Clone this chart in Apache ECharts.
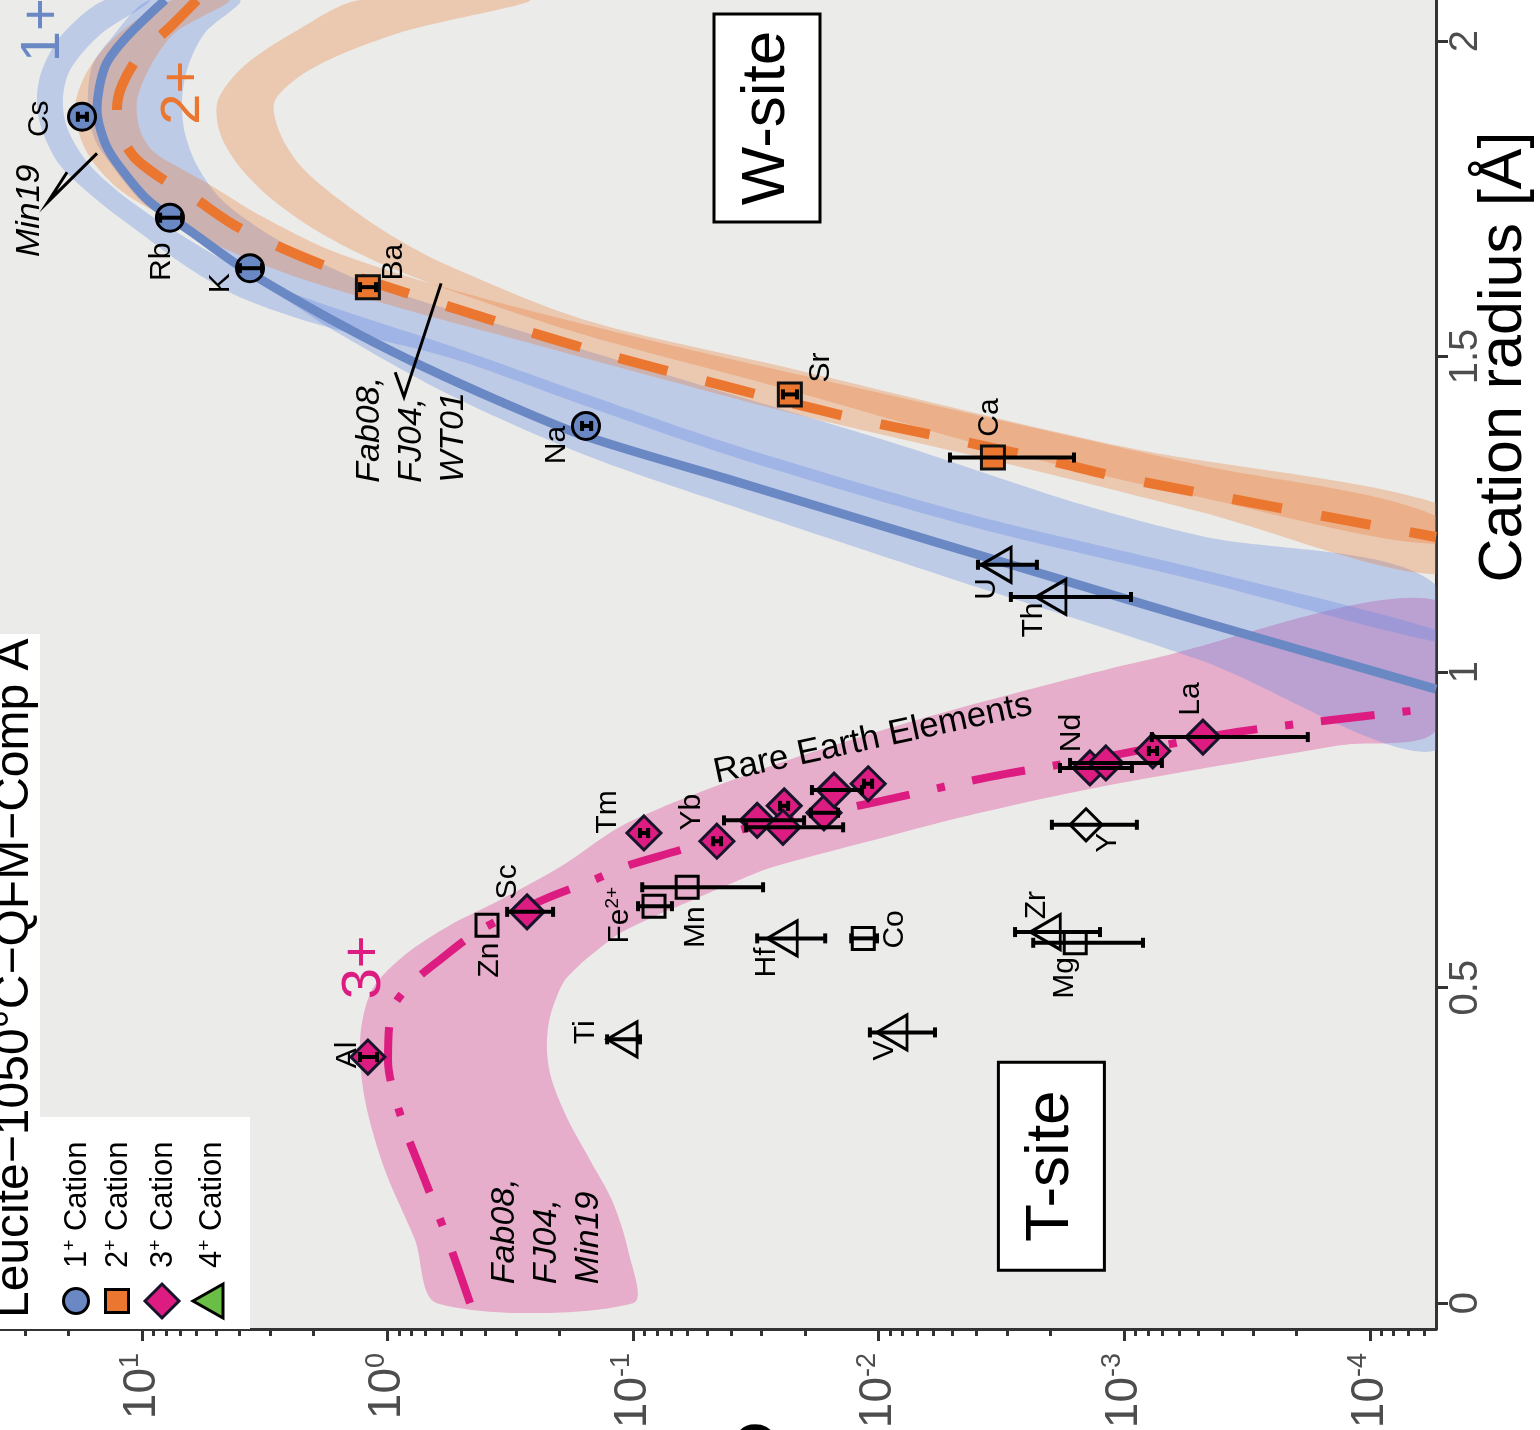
<!DOCTYPE html>
<html>
<head>
<meta charset="utf-8">
<title>Leucite lattice strain</title>
<script src="https://cdn.jsdelivr.net/npm/echarts@6.0.0/dist/echarts.min.js"></script>
<style>
html,body{margin:0;padding:0;background:#ffffff;}
#chart{width:1540px;height:1430px;}
</style>
</head>
<body>
<div id="chart"></div>
<script>
// ================= AXES =================
const dDecades = [1, 0, -1, -2, -3, -4];            // major ticks, 10^n
const dMinorMultipliers = [2, 3, 4, 5, 6, 7, 8, 9];  // minor ticks inside each decade
const radiusTicks = [0, 0.5, 1, 1.5, 2];
const dRange = [-4.269, 1.578];     // log10(D) shown
const rRange = [-0.041, 2.065];     // cation radius shown [Å]

// ================= MEASURED POINTS (log10 D, radius Å) =================
// 1+ cations (W-site)
const ion1 = ['Cs', 'Rb', 'K', 'Na'];
const r1 = [1.88, 1.72, 1.64, 1.39];
const logD1 = [1.244, 0.886, 0.560, -0.808];
const logD1Hi = [1.261, 0.926, 0.601, -0.792];
const logD1Lo = [1.224, 0.837, 0.511, -0.829];
// 2+ cations (W-site)
const ion2 = ['Ba', 'Sr', 'Ca'];
const r2 = [1.61, 1.44, 1.34];
const logD2 = [0.080, -1.638, -2.465];
const logD2Hi = [0.112, -1.610, -2.290];
const logD2Lo = [0.047, -1.667, -2.795];
// 3+ cations (T-site)
const ion3 = ['Al', 'Sc', 'Tm', 'Yb', 'Dy', 'Gd', 'Ho', 'Tb', 'Eu', 'Sm', 'Nd', 'Pr', 'Ce', 'La'];
const r3 = [0.390, 0.620, 0.745, 0.732, 0.765, 0.788, 0.754, 0.777, 0.813, 0.823, 0.848, 0.856, 0.875, 0.897];
const logD3 = [0.080, -0.568, -1.044, -1.341, -1.505, -1.615, -1.610, -1.777, -1.818, -1.957, -2.860, -2.925, -3.116, -3.320];
const logD3Hi = [0.112, -0.487, -1.028, -1.326, -1.370, -1.598, -1.460, -1.724, -1.728, -1.940, -2.738, -2.779, -3.100, -3.112];
const logD3Lo = [0.043, -0.674, -1.061, -1.358, -1.696, -1.631, -1.855, -1.834, -1.932, -1.973, -3.031, -3.153, -3.133, -3.747];
// not fitted (open symbols)
const ionOpen2 = ['Zn', 'Fe', 'Mn', 'Co', 'Mg'];
const rOpen2 = [0.599, 0.629, 0.659, 0.578, 0.571];
const logDOpen2 = [-0.405, -1.085, -1.220, -1.937, -2.800];
const logDOpen2Hi = [null, -1.020, -1.037, -1.888, -2.629];
const logDOpen2Lo = [null, -1.158, -1.529, -1.993, -3.076];
const ionOpen4 = ['Ti', 'V', 'Hf', 'Zr', 'U', 'Th'];
const rOpen4 = [0.418, 0.429, 0.578, 0.588, 1.170, 1.119];
const logDOpen4 = [-0.955, -2.054, -1.607, -2.678, -2.478, -2.701];
const logDOpen4Hi = [-0.894, -1.964, -1.505, -2.555, -2.404, -2.538];
const logDOpen4Lo = [-1.028, -2.229, -1.782, -2.901, -2.644, -3.027];
const ionOpen3 = ['Y'];
const rOpen3 = [0.758];
const logDOpen3 = [-2.844];
const logDOpen3Hi = [-2.705];
const logDOpen3Lo = [-3.051];

// ================= LATTICE-STRAIN FITS =================
const fit1R = [2.065, 2.002, 1.959, 1.891, 1.843, 1.811, 1.748, 1.696, 1.642, 1.588, 1.534, 1.488, 1.429, 1.374, 1.301, 1.204, 1.141, 1.081, 0.973];
const fit1LogD = [0.906, 1.073, 1.151, 1.183, 1.155, 1.110, 0.976, 0.792, 0.597, 0.365, 0.112, -0.124, -0.458, -0.804, -1.427, -2.249, -2.791, -3.308, -4.269];
const fit2R = [2.065, 2.022, 1.978, 1.930, 1.891, 1.851, 1.815, 1.784, 1.756, 1.705, 1.645, 1.597, 1.553, 1.510, 1.471, 1.434, 1.399, 1.369, 1.336, 1.307, 1.214];
const fit2LogD = [0.776, 0.886, 1.008, 1.081, 1.102, 1.086, 1.029, 0.927, 0.805, 0.609, 0.263, -0.107, -0.462, -0.828, -1.199, -1.565, -1.936, -2.302, -2.685, -3.002, -4.269];
const fit3R = [0, 0.100, 0.195, 0.290, 0.385, 0.464, 0.504, 0.544, 0.591, 0.639, 0.670, 0.693, 0.718, 0.754, 0.792, 0.834, 0.865, 0.905, 0.943];
const fit3LogD = [-0.336, -0.246, -0.152, -0.059, -0.002, -0.018, -0.091, -0.213, -0.376, -0.633, -0.836, -0.975, -1.191, -1.476, -1.964, -2.453, -2.913, -3.458, -4.269];

// uncertainty envelopes: high-D edge and low-D edge
const band3HiR = [0, 0.100, 0.211, 0.322, 0.417, 0.496, 0.552, 0.599, 0.639, 0.691, 0.761, 0.845, 0.913, 0.960, 1.019, 1.114];
const band3HiLogD = [-0.201, -0.112, 0.011, 0.092, 0.112, 0.064, -0.071, -0.254, -0.458, -0.702, -0.975, -1.516, -2.058, -2.493, -3.092, -4.269];
const band3LoR = [0, 0.084, 0.163, 0.227, 0.290, 0.353, 0.401, 0.453, 0.507, 0.532, 0.559, 0.586, 0.612, 0.639, 0.666, 0.691, 0.742, 0.777, 0.818, 0.884, 0.908];
const band3LoLogD = [-0.999, -0.979, -0.914, -0.824, -0.735, -0.669, -0.649, -0.661, -0.714, -0.771, -0.853, -0.946, -1.081, -1.243, -1.406, -1.569, -2.058, -2.412, -2.901, -3.878, -4.269];

const band1aHiR = [2.065, 2.002, 1.959, 1.891, 1.843, 1.811, 1.748, 1.696, 1.642, 1.586, 1.545, 1.439, 1.344, 1.260, 1.154, 1.019, 0.876];
const band1aHiLogD = [0.967, 1.130, 1.204, 1.220, 1.191, 1.138, 1.008, 0.825, 0.629, 0.397, 0.235, -0.254, -0.804, -1.427, -2.249, -3.308, -4.269];
const band1aLoR = [2.065, 2.013, 1.959, 1.906, 1.854, 1.800, 1.748, 1.700, 1.661, 1.621, 1.574, 1.510, 1.437, 1.360, 1.265, 1.216, 1.138];
const band1aLoLogD = [0.601, 0.743, 0.813, 0.837, 0.825, 0.772, 0.674, 0.511, 0.336, 0.112, -0.254, -0.804, -1.427, -2.086, -2.831, -3.308, -4.269];

const band1bHiR = [2.065, 2.010, 1.954, 1.906, 1.859, 1.803, 1.748, 1.696, 1.642, 1.594, 1.550, 1.498, 1.422, 1.339, 1.230, 1.144, 1.048];
const band1bHiLogD = [1.151, 1.326, 1.407, 1.428, 1.407, 1.334, 1.183, 1.008, 0.817, 0.601, 0.275, -0.254, -0.804, -1.427, -2.384, -3.308, -4.269];
const band1bLoR = [2.065, 2.010, 1.954, 1.906, 1.859, 1.803, 1.753, 1.704, 1.656, 1.615, 1.574, 1.517, 1.441, 1.358, 1.249, 1.163, 1.067];
const band1bLoLogD = [0.967, 1.171, 1.293, 1.322, 1.301, 1.212, 1.069, 0.886, 0.682, 0.479, 0.194, -0.254, -0.804, -1.427, -2.384, -3.308, -4.269];

const band2aHiR = [2.065, 2.013, 1.959, 1.906, 1.859, 1.811, 1.764, 1.721, 1.674, 1.624, 1.577, 1.534, 1.491, 1.407, 1.333, 1.254, 1.155];
const band2aHiLogD = [0.874, 1.090, 1.212, 1.269, 1.261, 1.204, 1.090, 0.906, 0.682, 0.357, -0.050, -0.458, -0.865, -1.679, -2.493, -3.308, -4.269];
const band2aLoR = [2.065, 2.013, 1.959, 1.906, 1.859, 1.827, 1.803, 1.772, 1.724, 1.669, 1.621, 1.577, 1.526, 1.471, 1.399, 1.328, 1.247];
const band2aLoLogD = [0.642, 0.866, 0.967, 1.020, 1.008, 0.959, 0.866, 0.723, 0.520, 0.235, -0.132, -0.539, -1.068, -1.679, -2.493, -3.308, -4.269];

const band2bHiR = [2.065, 2.013, 1.959, 1.906, 1.854, 1.800, 1.748, 1.696, 1.650, 1.605, 1.534, 1.447, 1.352, 1.277, 1.203];
const band2bHiLogD = [0.112, 0.385, 0.589, 0.691, 0.682, 0.601, 0.467, 0.275, 0.043, -0.254, -0.804, -1.634, -2.493, -3.308, -4.269];
const band2bLoR = [2.065, 2.013, 1.959, 1.906, 1.854, 1.800, 1.748, 1.693, 1.645, 1.558, 1.482, 1.355, 1.268];
const band2bLoLogD = [-0.580, -0.050, 0.296, 0.458, 0.438, 0.349, 0.194, -0.010, -0.242, -0.804, -1.634, -3.023, -4.269];

// ================= STYLE =================
const FONT = '"Liberation Sans", Arial, Helvetica, sans-serif';
const C_BLUE = '#6a88c4', C_ORANGE = '#eb762f', C_MAG = '#dc1c80', C_GREEN = '#6abd45';
const labelOffsets = {
  Cs: [-42, 2], Rb: [-8, 44], K: [-29, 15], Na: [-29, 19], Ba: [26, -25], Sr: [31, -27], Ca: [-3, -40],
  Al: [-20, -2], Sc: [-19, -30], Tm: [-36, -21], Yb: [-25, -29], La: [-12, -38], Nd: [-18, -35],
  Y: [22, 18], Zn: [3, 35], Fe: [-34, 9], Mn: [9, 40], Hf: [-15, 24], Co: [31, -9], Ti: [-36, -7],
  V: [-7, 18], U: [-9, 24], Th: [-17, 23], Zr: [-9, -27], Mg: [-10, 35]
};

const pairs = (logs, rs) => logs.map((v, i) => [v, rs[i]]);

const bands = [
  { hi: pairs(band3HiLogD, band3HiR), lo: pairs(band3LoLogD, band3LoR), fill: 'rgba(220,30,130,0.30)' },
  { hi: pairs(band1aHiLogD, band1aHiR), lo: pairs(band1aLoLogD, band1aLoR), fill: 'rgba(95,135,225,0.32)' },
  { hi: pairs(band1bHiLogD, band1bHiR), lo: pairs(band1bLoLogD, band1bLoR), fill: 'rgba(95,135,225,0.32)' },
  { hi: pairs(band2aHiLogD, band2aHiR), lo: pairs(band2aLoLogD, band2aLoR), fill: 'rgba(236,118,48,0.30)' },
  { hi: pairs(band2bHiLogD, band2bHiR), lo: pairs(band2bLoLogD, band2bLoR), fill: 'rgba(236,118,48,0.30)' }
];

const groups = [
  { ions: ion1, r: r1, d: logD1, hi: logD1Hi, lo: logD1Lo },
  { ions: ion2, r: r2, d: logD2, hi: logD2Hi, lo: logD2Lo },
  { ions: ion3, r: r3, d: logD3, hi: logD3Hi, lo: logD3Lo },
  { ions: ionOpen2, r: rOpen2, d: logDOpen2, hi: logDOpen2Hi, lo: logDOpen2Lo },
  { ions: ionOpen4, r: rOpen4, d: logDOpen4, hi: logDOpen4Hi, lo: logDOpen4Lo },
  { ions: ionOpen3, r: rOpen3, d: logDOpen3, hi: logDOpen3Hi, lo: logDOpen3Lo }
];
const errData = [];
const labelData = [];
const labelNames = [];
groups.forEach(g => g.ions.forEach((n, i) => {
  if (g.hi[i] != null) errData.push([g.hi[i], g.r[i], g.lo[i]]);
  if (labelOffsets[n]) { labelData.push([g.d[i], g.r[i], labelNames.length]); labelNames.push(n); }
}));

const minorTicks = [];
[1, 0, -1, -2, -3, -4, -5].forEach(n => dMinorMultipliers.forEach(m => {
  const v = n + Math.log10(m);
  if (v > dRange[0] && v < dRange[1]) minorTicks.push(v);
}));

// annotations (positions in data space: [log10 D, radius])
const annotations = [
  { kind: 'box', text: 'W-site', at: [-1.545, 1.878] },
  { kind: 'box', text: 'T-site', at: [-2.703, 0.217] },
  { kind: 'text', text: '1+', at: [1.399, 2.017], color: C_BLUE, size: 56 },
  { kind: 'text', text: '2+', at: [0.829, 1.918], color: C_ORANGE, size: 56 },
  { kind: 'text', text: '3+', at: [0.092, 0.532], color: C_MAG, size: 56 },
  { kind: 'text', text: 'Rare Earth Elements', at: [-1.976, 0.894], size: 35, angle: 12.2 },
  { kind: 'text', text: 'Min19', at: [1.456, 1.731], size: 34, italic: true },
  { kind: 'block', text: 'Fab08,\nFJ04,\nWT01', at: [0.157, 1.300] },
  { kind: 'block', text: 'Fab08,\nFJ04,\nMin19', at: [-0.392, 0.030] },
  { kind: 'arrow', at: [1.183, 1.822], tip: [1.383, 1.745], arm: [1.305, 1.792] },
  { kind: 'arrow', at: [-0.218, 1.616], tip: [-0.067, 1.436], arm: [-0.031, 1.475] }
];

function txt(x, y, text, o) {
  o = o || {};
  const st = {
    text: text, fill: o.color || '#000', fontSize: o.size || 30, fontFamily: FONT,
    fontStyle: o.italic ? 'italic' : 'normal',
    align: o.align || 'center', textAlign: o.align || 'center',
    verticalAlign: o.valign || 'middle', textVerticalAlign: o.valign || 'middle'
  };
  if (o.lineHeight) st.lineHeight = o.lineHeight;
  if (o.rich) st.rich = o.rich;
  return { type: 'text', x: x, y: y, rotation: o.rot == null ? Math.PI / 2 : o.rot, style: st };
}

const chart = echarts.init(document.getElementById('chart'), null, { renderer: 'canvas', width: 1540, height: 1430 });

const axisGray = '#4d4d4d';
const option = {
  animation: false,
  backgroundColor: '#ffffff',
  grid: { left: 0, top: 0, right: 104, bottom: 101, show: true, backgroundColor: '#ebecea', borderWidth: 0, containLabel: false, outerBoundsMode: 'none' },
  xAxis: [
    {
      type: 'value', min: dRange[0], max: dRange[1], inverse: true, position: 'bottom',
      axisLine: { show: true, onZero: false, lineStyle: { color: '#333333', width: 3 } },
      axisTick: { show: true, length: 12, lineStyle: { color: '#333333', width: 3 }, customValues: dDecades },
      axisLabel: {
        show: true, rotate: 90, margin: 24, customValues: dDecades, color: axisGray,
        formatter: v => '{b|10}{s|' + Math.round(v) + '}',
        rich: {
          b: { fontSize: 46, fontFamily: FONT, color: axisGray, lineHeight: 50 },
          s: { fontSize: 27, fontFamily: FONT, color: axisGray, verticalAlign: 'top', lineHeight: 28 }
        }
      },
      splitLine: { show: false }
    },
    {
      type: 'value', min: dRange[0], max: dRange[1], inverse: true, position: 'bottom',
      axisLine: { show: false, onZero: false },
      axisTick: { show: true, length: 7, lineStyle: { color: '#333333', width: 3 }, customValues: minorTicks },
      axisLabel: { show: false },
      splitLine: { show: false }
    }
  ],
  yAxis: {
    type: 'value', min: rRange[0], max: rRange[1], position: 'right',
    axisLine: { show: true, onZero: false, lineStyle: { color: '#333333', width: 3 } },
    axisTick: { show: true, length: 12, lineStyle: { color: '#333333', width: 3 }, customValues: radiusTicks },
    axisLabel: { show: true, rotate: 90, margin: 10, customValues: radiusTicks, color: axisGray, fontSize: 40, fontFamily: FONT },
    splitLine: { show: false }
  },
  series: [
    {
      type: 'custom', name: 'bands', clip: true, z: 1, silent: true,
      data: bands.map((b, i) => [0, 1, i]),
      encode: { x: 0, y: 1 },
      renderItem: (params, api) => {
        const b = bands[params.dataIndex];
        const pts = b.hi.map(p => api.coord(p)).concat(b.lo.slice().reverse().map(p => api.coord(p)));
        return { type: 'polygon', shape: { points: pts, smooth: 0.3 }, style: { fill: b.fill } };
      }
    },
    { type: 'line', name: 'fit 1+', data: pairs(fit1LogD, fit1R), symbol: 'none', smooth: 0.3, z: 3, lineStyle: { color: C_BLUE, width: 9 } },
    { type: 'line', name: 'fit 2+', data: pairs(fit2LogD, fit2R), symbol: 'none', smooth: 0.3, z: 3, lineStyle: { color: C_ORANGE, width: 10, type: [50, 40], cap: 'butt' } },
    { type: 'line', name: 'fit 3+', data: pairs(fit3LogD, fit3R), symbol: 'none', smooth: 0.3, z: 3, lineStyle: { color: C_MAG, width: 8, type: [54, 28, 8, 28], cap: 'butt' } },
    { type: 'scatter', name: '1+ Cation', data: pairs(logD1, r1), symbol: 'circle', symbolSize: 27, z: 5, itemStyle: { color: C_BLUE, borderColor: '#000', borderWidth: 3, opacity: 1 } },
    { type: 'scatter', name: '2+ Cation', data: pairs(logD2, r2), symbol: 'rect', symbolSize: 23, z: 5, itemStyle: { color: C_ORANGE, borderColor: '#111', borderWidth: 3, opacity: 1 } },
    { type: 'scatter', name: '3+ Cation', data: pairs(logD3, r3), symbol: 'diamond', symbolSize: 34, z: 5, itemStyle: { color: C_MAG, borderColor: '#15142a', borderWidth: 3, opacity: 1 } },
    { type: 'scatter', name: '2+ unfitted', data: pairs(logDOpen2, rOpen2), symbol: 'rect', symbolSize: 22, z: 5, itemStyle: { color: 'rgba(0,0,0,0)', borderColor: '#000', borderWidth: 3, opacity: 1 } },
    { type: 'scatter', name: '4+ unfitted', data: pairs(logDOpen4, rOpen4), symbol: 'triangle', symbolSize: [35, 30], symbolRotate: 90, z: 5, itemStyle: { color: 'rgba(0,0,0,0)', borderColor: '#000', borderWidth: 3, opacity: 1 } },
    { type: 'scatter', name: '3+ unfitted', data: pairs(logDOpen3, rOpen3), symbol: 'diamond', symbolSize: 32, z: 5, itemStyle: { color: 'rgba(0,0,0,0)', borderColor: '#000', borderWidth: 3, opacity: 1 } },
    {
      type: 'custom', name: 'error bars', z: 6, silent: true,
      data: errData, encode: { x: [0, 2], y: 1 },
      renderItem: (params, api) => {
        const r = api.value(1);
        const a = api.coord([api.value(0), r]), b = api.coord([api.value(2), r]);
        const h = 5, s = { stroke: '#000', lineWidth: 4 };
        return { type: 'group', children: [
          { type: 'line', shape: { x1: a[0], y1: a[1], x2: b[0], y2: b[1] }, style: s },
          { type: 'line', shape: { x1: a[0], y1: a[1] - h, x2: a[0], y2: a[1] + h }, style: s },
          { type: 'line', shape: { x1: b[0], y1: b[1] - h, x2: b[0], y2: b[1] + h }, style: s }
        ] };
      }
    },
    {
      type: 'custom', name: 'element labels', z: 7, silent: true,
      data: labelData, encode: { x: 0, y: 1 },
      renderItem: (params, api) => {
        const p = api.coord([api.value(0), api.value(1)]);
        const n = labelNames[api.value(2)];
        const off = labelOffsets[n];
        if (n === 'Fe') {
          return txt(p[0] + off[0], p[1] + off[1], '{a|Fe}{s|2+}', {
            rich: { a: { fontSize: 30, fontFamily: FONT, fill: '#000', lineHeight: 34 }, s: { fontSize: 19, fontFamily: FONT, fill: '#000', verticalAlign: 'top', lineHeight: 20 } }
          });
        }
        return txt(p[0] + off[0], p[1] + off[1], n, { size: 30 });
      }
    },
    {
      type: 'custom', name: 'annotations', z: 8, silent: true,
      data: annotations.map((a, i) => [a.at[0], a.at[1], i]), encode: { x: 0, y: 1 },
      renderItem: (params, api) => {
        const a = annotations[api.value(2)];
        const p = api.coord(a.at);
        if (a.kind === 'box') {
          return { type: 'group', children: [
            { type: 'rect', shape: { x: p[0] - 53, y: p[1] - 104, width: 106, height: 208 }, style: { fill: '#fff', stroke: '#000', lineWidth: 3 } },
            txt(p[0], p[1], a.text, { size: 62 })
          ] };
        }
        if (a.kind === 'text') {
          return txt(p[0], p[1], a.text, { size: a.size, color: a.color, italic: a.italic, rot: a.angle != null ? a.angle * Math.PI / 180 : Math.PI / 2 });
        }
        if (a.kind === 'block') {
          return txt(p[0], p[1], a.text, { size: 34, italic: true, align: 'left', valign: 'top', lineHeight: 42 });
        }
        const t = api.coord(a.tip), m = api.coord(a.arm);
        const s = { stroke: '#000', lineWidth: 3, fill: null };
        return { type: 'group', children: [
          { type: 'polyline', shape: { points: [p, t, m] }, style: s }
        ] };
      }
    }
  ],
  graphic: [
    // title strip
    { type: 'rect', z: 100, shape: { x: 0, y: 634, width: 40, height: 695 }, style: { fill: '#ffffff' } },
    Object.assign(txt(15, 1318, 'Leucite\u22121050\u00b0C\u2212QFM\u2212Comp A', { size: 48, align: 'left' }), { z: 101 }),
    // legend
    { type: 'rect', z: 100, shape: { x: 40, y: 1117, width: 210, height: 212 }, style: { fill: '#ffffff' } },
    { type: 'circle', z: 101, shape: { cx: 76, cy: 1301, r: 12.5 }, style: { fill: C_BLUE, stroke: '#000', lineWidth: 3 } },
    { type: 'rect', z: 101, shape: { x: 105.5, y: 1289.5, width: 23, height: 23 }, style: { fill: C_ORANGE, stroke: '#000', lineWidth: 3 } },
    { type: 'polygon', z: 101, shape: { points: [[145, 1301], [162, 1284], [179, 1301], [162, 1318]] }, style: { fill: C_MAG, stroke: '#15142a', lineWidth: 3 } },
    { type: 'polygon', z: 101, shape: { points: [[193, 1301], [223, 1284], [223, 1318]] }, style: { fill: C_GREEN, stroke: '#000', lineWidth: 3 } },
    ...['1', '2', '3', '4'].map((c, i) => Object.assign(txt([77, 118, 163, 212][i], 1268, '{a|' + c + '}{s|+}{a| Cation}', {
      align: 'left',
      rich: { a: { fontSize: 31, fontFamily: FONT, fill: '#000', lineHeight: 34 }, s: { fontSize: 19, fontFamily: FONT, fill: '#000', verticalAlign: 'top', lineHeight: 20 } }
    }), { z: 101 })),
    // axis titles
    Object.assign(txt(1504, 357, 'Cation radius [\u00c5]', { size: 61 }), { z: 101 }),
    Object.assign(txt(759, 1443, 'D', { size: 60 }), { z: 101 })
  ]
};
chart.setOption(option);
</script>
</body>
</html>
